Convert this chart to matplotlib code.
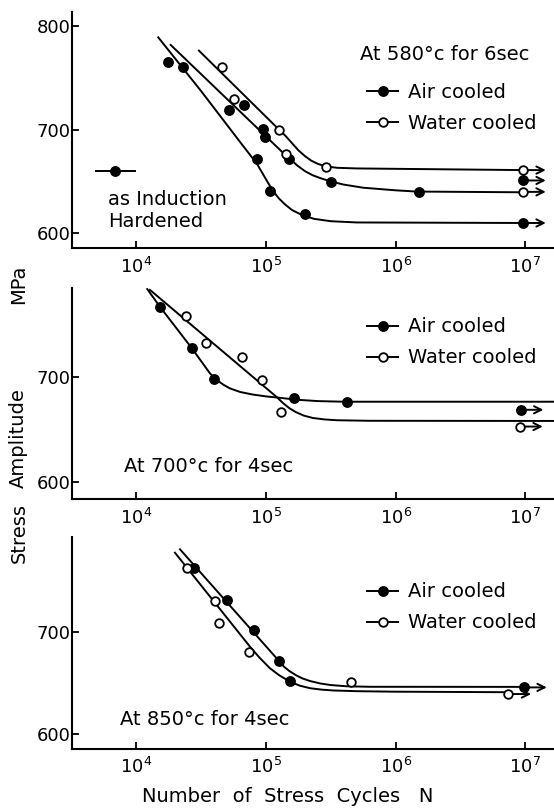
import matplotlib.pyplot as plt
from matplotlib.lines import Line2D
from matplotlib.ticker import NullLocator

plt.rcParams.update({"font.family": "DejaVu Sans", "font.size": 13,
                     "mathtext.fontset": "dejavusans", "axes.linewidth": 1.5})

# ---- 580 C for 6 sec ----
ind580_n = [1.74e4, 2.30e4, 5.17e4, 8.55e4, 1.07e5, 1.99e5, 9.6e6]
ind580_s = [765, 760, 719, 672, 641, 619, 610]
air580_n = [6.79e4, 9.51e4, 9.75e4, 1.51e5, 3.19e5, 1.52e6, 9.6e6]
air580_s = [724, 701, 693, 672, 650, 640, 651]
wat580_n = [4.54e4, 5.62e4, 1.25e5, 1.42e5, 2.90e5, 9.6e6, 9.6e6]
wat580_s = [760, 730, 700, 677, 664, 661, 640]

# hand-fitted curves (log10 N, stress)
ind580_fit_logn = [4.168, 4.5, 4.8, 4.93, 5.0, 5.05, 5.1, 5.15, 5.2, 5.28, 5.37, 5.5,
                   5.7, 6.98]
ind580_fit_s = [789, 737, 688, 667, 652, 641.5, 633.5, 627.5, 622.5, 617.5, 614,
                611.7, 610.5, 610]
air580_fit_logn = [4.264, 5.12, 5.18, 5.24, 5.30, 5.36, 5.42, 5.50, 5.60, 5.75, 6.0,
                   6.16, 6.98]
air580_fit_s = [781.7, 679, 672.5, 665.5, 660, 656, 653.2, 650, 647, 644, 641.5,
                640.3, 639.6]
wat580_fit_logn = [4.482, 5.097, 5.15, 5.20, 5.25, 5.30, 5.35, 5.40, 5.46, 5.55, 5.70,
                   6.98]
wat580_fit_s = [776.2, 700.4, 694, 687, 680, 674.5, 670, 667, 664.6, 663.2, 662.6, 661]

# ---- 700 C for 4 sec ----
air700_n = [1.52e4, 2.67e4, 3.96e4, 1.64e5, 4.19e5, 9.2e6]
air700_s = [767, 728, 698, 680.5, 676, 669]
wat700_n = [2.41e4, 3.44e4, 6.49e4, 9.25e4, 1.30e5, 9.1e6]
wat700_s = [759, 732.5, 719, 697.5, 667, 653]

air700_fit_logn = [4.083, 4.181, 4.426, 4.567, 4.62, 4.67, 4.72, 4.80, 4.90, 5.0, 5.1,
                   5.25, 5.4, 5.6, 7.5]
air700_fit_s = [784.3, 767.4, 728, 703.8, 697.5, 693, 689.5, 686, 683.5, 681.8, 680.5,
                678.5, 677.3, 676.7, 676.7]
wat700_fit_logn = [4.104, 5.082, 5.13, 5.18, 5.23, 5.29, 5.36, 5.45, 5.55, 5.8, 7.5]
wat700_fit_s = [783.5, 681.2, 675.5, 670.5, 666.8, 663.5, 661.2, 659.8, 659, 658.5,
                658.3]

# ---- 850 C for 4 sec ----
air850_n = [2.79e4, 4.97e4, 8.07e4, 1.26e5, 1.53e5, 9.77e6]
air850_s = [762.6, 731, 702, 671, 651.5, 645.5]
wat850_n = [2.44e4, 4.04e4, 4.36e4, 7.41e4, 4.5e5, 7.4e6]
wat850_s = [762.6, 730, 708, 680, 651, 639]

air850_fit_logn = [4.336, 5.102, 5.14, 5.18, 5.23, 5.28, 5.34, 5.42, 5.5, 5.62, 5.8,
                   6.99]
air850_fit_s = [780.5, 671, 665.5, 661.5, 657.5, 654.3, 651.7, 649.3, 647.8, 646.6,
                646.1, 646]
wat850_fit_logn = [4.297, 4.876, 4.95, 5.03, 5.1, 5.184, 5.26, 5.34, 5.43, 5.52, 5.7,
                   6.0, 6.87]
wat850_fit_s = [777.2, 685.3, 674.5, 664.2, 657.5, 651.1, 647.2, 644.7, 643.3, 642.5,
                641.8, 641.3, 640.8]

x_ticks = [1e4, 1e5, 1e6, 1e7]
x_range = (10 ** 3.5, 10 ** 7.222)
RUNOUT = 5e6      # specimens that did not fail
ARROW = 1.5       # run-out arrow length as a factor in N

FILLED = dict(marker="o", ms=6.8, mfc="k", mec="k", ls="none", zorder=4)
OPEN = dict(marker="o", ms=6.2, mfc="white", mec="k", mew=1.3, ls="none", zorder=4)
LINE = dict(color="k", lw=1.4, zorder=3)

fig = plt.figure(figsize=(5.54, 8.09), dpi=100)
ax1 = fig.add_axes([0.1294, 0.6931, 0.8706, 0.2925])
ax2 = fig.add_axes([0.1294, 0.3828, 0.8706, 0.2608])
ax3 = fig.add_axes([0.1294, 0.0742, 0.8706, 0.2617])


def curve(ax, logn, s):
    ax.plot([10 ** v for v in logn], s, **LINE)


def runouts(ax, n, s):
    for ni, si in zip(n, s):
        if ni >= RUNOUT:
            ax.annotate("", xy=(ni * ARROW, si), xytext=(ni, si),
                        arrowprops=dict(arrowstyle="->", lw=1.4, color="k",
                                        shrinkA=0, shrinkB=0, mutation_scale=13),
                        zorder=3)


def setup(ax, ylim, yticks):
    ax.set_xscale("log")
    ax.set_xlim(*x_range)
    ax.set_ylim(*ylim)
    ax.set_xticks(x_ticks)
    ax.xaxis.set_minor_locator(NullLocator())
    ax.set_yticks(yticks)
    ax.spines["top"].set_visible(False)
    ax.spines["right"].set_visible(False)
    ax.tick_params(direction="in", length=5, width=1.3, labelsize=13)
    ax.tick_params(axis="y", pad=1)
    ax.tick_params(axis="x", pad=6)


def cooling_key(ax, y):
    air = Line2D([], [], color="k", lw=1.4, marker="o", ms=6.8, mfc="k", mec="k")
    wat = Line2D([], [], color="k", lw=1.4, marker="o", ms=6.2, mfc="white",
                 mec="k", mew=1.3)
    return ax.legend([air, wat], ["Air cooled", "Water cooled"], loc="upper left",
                     bbox_to_anchor=(0.613, y), frameon=False, fontsize=14,
                     handlelength=1.6, handletextpad=0.5, labelspacing=0.62,
                     borderpad=0, borderaxespad=0)


# top panel
curve(ax1, ind580_fit_logn, ind580_fit_s)
curve(ax1, air580_fit_logn, air580_fit_s)
curve(ax1, wat580_fit_logn, wat580_fit_s)
ax1.plot(ind580_n, ind580_s, **FILLED)
ax1.plot(air580_n, air580_s, **FILLED)
ax1.plot(wat580_n, wat580_s, **OPEN)
for n, s in [(ind580_n, ind580_s), (air580_n, air580_s), (wat580_n, wat580_s)]:
    runouts(ax1, n, s)
setup(ax1, (585.6, 813.8), [600, 700, 800])
ax1.text(0.598, 0.817, "At 580°c for 6sec", transform=ax1.transAxes,
         fontsize=14, va="center")
ax1.add_artist(cooling_key(ax1, 0.70))
ind_key = Line2D([], [], color="k", lw=1.4, marker="o", ms=6.8, mfc="k", mec="k")
ax1.legend([ind_key], [""], loc="upper left", bbox_to_anchor=(0.05, 0.36),
           frameon=False, fontsize=14, handlelength=2.0, handletextpad=0,
           borderpad=0, borderaxespad=0)
ax1.text(0.075, 0.16, "as Induction\nHardened", transform=ax1.transAxes,
         fontsize=14, va="center", linespacing=1.2)

# middle panel
curve(ax2, air700_fit_logn, air700_fit_s)
curve(ax2, wat700_fit_logn, wat700_fit_s)
ax2.plot(air700_n, air700_s, **FILLED)
ax2.plot(wat700_n, wat700_s, **OPEN)
runouts(ax2, air700_n, air700_s)
runouts(ax2, wat700_n, wat700_s)
setup(ax2, (583.5, 785), [600, 700])
ax2.text(0.108, 0.154, "At 700°c for 4sec", transform=ax2.transAxes,
         fontsize=14, va="center")
cooling_key(ax2, 0.862)

# bottom panel
curve(ax3, air850_fit_logn, air850_fit_s)
curve(ax3, wat850_fit_logn, wat850_fit_s)
ax3.plot(air850_n, air850_s, **FILLED)
ax3.plot(wat850_n, wat850_s, **OPEN)
runouts(ax3, air850_n, air850_s)
runouts(ax3, wat850_n, wat850_s)
setup(ax3, (585.3, 792.3), [600, 700])
ax3.text(0.1, 0.137, "At 850°c for 4sec", transform=ax3.transAxes,
         fontsize=14, va="center")
cooling_key(ax3, 0.787)

fig.text(0.52, 0.016, "Number  of  Stress  Cycles   N", ha="center", va="center",
         fontsize=14)
fig.text(0.034, 1 - 284 / 809, "MPa", rotation=90, ha="center", va="center", fontsize=14)
fig.text(0.034, 1 - 438 / 809, "Amplitude", rotation=90, ha="center", va="center",
         fontsize=14)
fig.text(0.034, 1 - 533 / 809, "Stress", rotation=90, ha="center", va="center",
         fontsize=14)

fig.savefig("out.png", dpi=100)
